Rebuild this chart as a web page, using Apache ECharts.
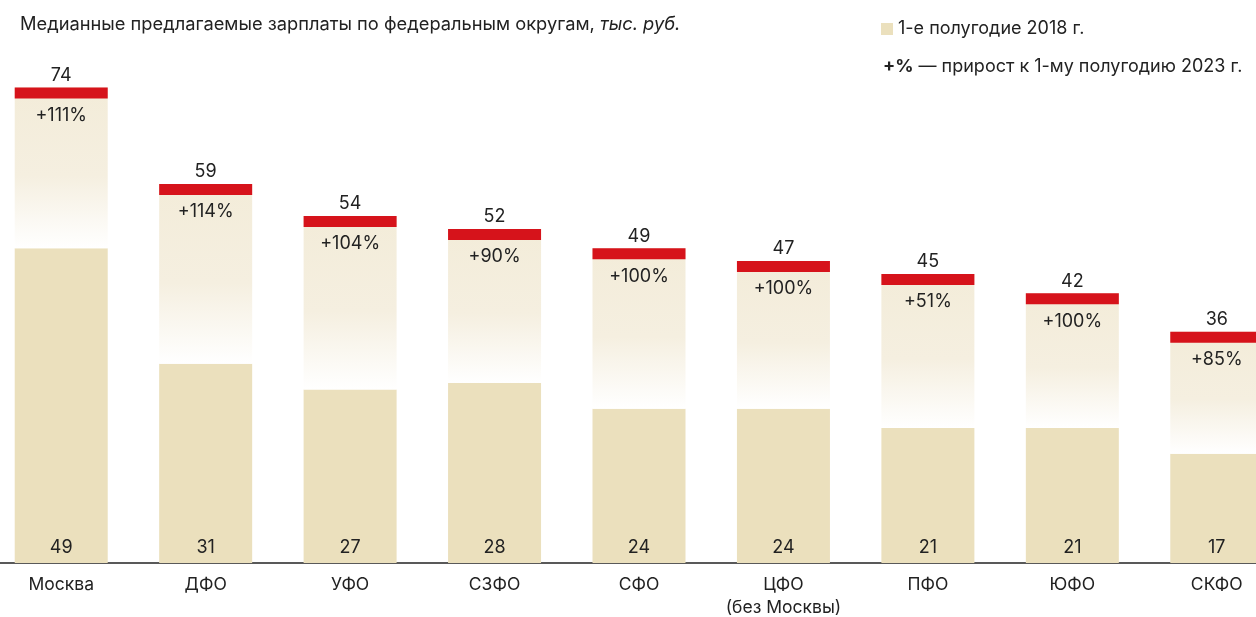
<!DOCTYPE html>
<html>
<head>
<meta charset="utf-8">
<script src="https://cdn.jsdelivr.net/npm/echarts@6/dist/echarts.min.js"></script>
<style>
  html, body { margin: 0; padding: 0; background: #fff; }
  #chart { width: 1256px; height: 617px; }
</style>
</head>
<body>
<div id="chart"></div>
<script>
var regions = ['Москва', 'ДФО', 'УФО', 'СЗФО', 'СФО', 'ЦФО\n(без Москвы)', 'ПФО', 'ЮФО', 'СКФО'];
var salary2018 = [49, 31, 27, 28, 24, 24, 21, 21, 17];
var salary2023 = [74, 59, 54, 52, 49, 47, 45, 42, 36];
var growthLabels = ['+111%', '+114%', '+104%', '+90%', '+100%', '+100%', '+51%', '+100%', '+85%'];

var growthPart = salary2023.map(function (v, i) { return v - salary2018[i]; });

var chart = echarts.init(document.getElementById('chart'));

var font = 'Inter, "Noto Sans", sans-serif';

var option = {
    animation: false,
    textStyle: { fontFamily: font },
    title: [
        {
            text: 'Медианные предлагаемые зарплаты по федеральным округам, {i|тыс. руб.}',
            left: 15,
            top: 11,
            textStyle: {
                fontSize: 18.3,
                fontWeight: 'normal',
                color: '#222',
                fontFamily: font,
                rich: {
                    i: { fontSize: 18.3, fontStyle: 'italic', color: '#222', fontFamily: font }
                }
            }
        },
        {
            text: '{b|+%} — прирост к 1-му полугодию 2023 г.',
            left: 878,
            top: 53,
            textStyle: {
                fontSize: 18,
                fontWeight: 'normal',
                color: '#222',
                fontFamily: font,
                rich: {
                    b: { fontSize: 18, fontWeight: 'bold', color: '#222', fontFamily: font }
                }
            }
        }
    ],
    legend: {
        data: ['1-е полугодие 2018 г.'],
        left: 876,
        top: 15,
        icon: 'rect',
        itemWidth: 12,
        itemHeight: 12,
        itemGap: 6,
        textStyle: { fontSize: 18, color: '#222', fontFamily: font }
    },
    grid: {
        left: -11,
        width: 1300,
        top: 49,
        bottom: 54,
        outerBoundsMode: 'none',
        containLabel: false
    },
    xAxis: {
        type: 'category',
        data: regions,
        axisLine: { lineStyle: { color: '#222', width: 1.5 } },
        axisTick: { alignWithLabel: true, interval: 0, length: 6, lineStyle: { color: '#222', width: 2.5 } },
        axisLabel: { interval: 0, fontSize: 17.5, color: '#222', margin: 10, lineHeight: 23, fontFamily: font }
    },
    yAxis: {
        type: 'value',
        min: 0,
        max: 80,
        show: false,
        splitLine: { show: false }
    },
    series: [
        {
            name: '1-е полугодие 2018 г.',
            type: 'bar',
            stack: 'total',
            data: salary2018,
            barWidth: 93,
            itemStyle: { color: '#ebe0bd' },
            label: {
                show: true,
                position: 'insideBottom',
                distance: 6,
                fontSize: 18,
                color: '#222',
                fontFamily: font
            }
        },
        {
            name: 'growth',
            type: 'bar',
            stack: 'total',
            data: growthPart,
            barWidth: 93,
            itemStyle: {
                color: {
                    type: 'linear', x: 0, y: 0, x2: 0, y2: 1,
                    colorStops: [
                        { offset: 0, color: '#f3ecd9' },
                        { offset: 0.55, color: '#f5efe0' },
                        { offset: 1, color: '#ffffff' }
                    ]
                }
            },
            label: {
                show: true,
                position: 'insideTop',
                distance: 19,
                fontSize: 18,
                color: '#222',
                fontFamily: font,
                formatter: function (p) { return growthLabels[p.dataIndex]; }
            }
        },
        {
            name: 'cap',
            type: 'scatter',
            data: salary2023,
            symbol: 'rect',
            symbolSize: [93, 11],
            symbolOffset: [0, '50%'],
            itemStyle: { color: '#d6131b', opacity: 1 },
            z: 5,
            label: {
                show: true,
                position: 'top',
                distance: 3,
                fontSize: 18,
                color: '#222',
                fontFamily: font
            }
        }
    ]
};

chart.setOption(option);
</script>
</body>
</html>
